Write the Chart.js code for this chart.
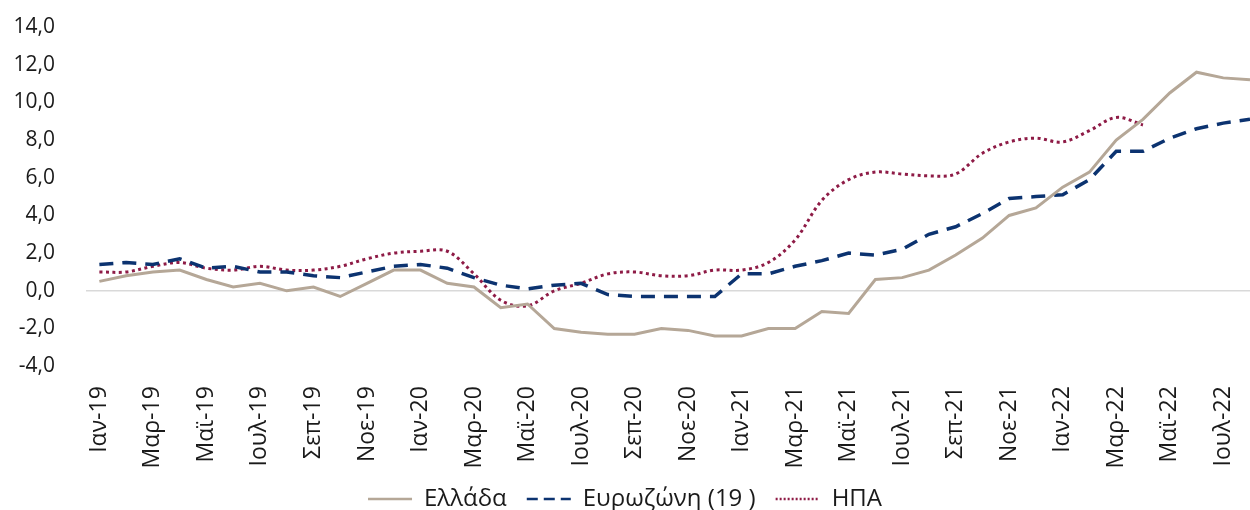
<!DOCTYPE html>
<html>
<head>
<meta charset="utf-8">
<script src="https://cdn.jsdelivr.net/npm/chart.js@4.4.0/dist/chart.umd.min.js"></script>
<style>
html,body{margin:0;padding:0;background:#fff;overflow:hidden}
#wrap{width:1250px;height:510px;position:relative}
</style>
</head>
<body>
<div id="wrap"><canvas id="c" width="1250" height="510"></canvas></div>
<script>
const months = [
  'Ιαν-19','Φεβ-19','Μαρ-19','Απρ-19','Μαϊ-19','Ιουν-19','Ιουλ-19','Αυγ-19','Σεπ-19','Οκτ-19','Νοε-19','Δεκ-19',
  'Ιαν-20','Φεβ-20','Μαρ-20','Απρ-20','Μαϊ-20','Ιουν-20','Ιουλ-20','Αυγ-20','Σεπ-20','Οκτ-20','Νοε-20','Δεκ-20',
  'Ιαν-21','Φεβ-21','Μαρ-21','Απρ-21','Μαϊ-21','Ιουν-21','Ιουλ-21','Αυγ-21','Σεπ-21','Οκτ-21','Νοε-21','Δεκ-21',
  'Ιαν-22','Φεβ-22','Μαρ-22','Απρ-22','Μαϊ-22','Ιουν-22','Ιουλ-22','Αυγ-22'
];
const tickLabels = ['Ιαν-19','Μαρ-19','Μαϊ-19','Ιουλ-19','Σεπ-19','Νοε-19','Ιαν-20','Μαρ-20','Μαϊ-20','Ιουλ-20','Σεπ-20','Νοε-20',
  'Ιαν-21','Μαρ-21','Μαϊ-21','Ιουλ-21','Σεπ-21','Νοε-21','Ιαν-22','Μαρ-22','Μαϊ-22','Ιουλ-22'];
const greece = [0.5,0.8,1.0,1.1,0.6,0.2,0.4,0.0,0.2,-0.3,0.4,1.1,
  1.1,0.4,0.2,-0.9,-0.7,-2.0,-2.2,-2.3,-2.3,-2.0,-2.1,-2.4,
  -2.4,-2.0,-2.0,-1.1,-1.2,0.6,0.7,1.1,1.9,2.8,4.0,4.4,
  5.5,6.3,8.0,9.1,10.5,11.6,11.3,11.2];
const eurozone = [1.4,1.5,1.4,1.7,1.2,1.3,1.0,1.0,0.8,0.7,1.0,1.3,
  1.4,1.2,0.7,0.3,0.1,0.3,0.4,-0.2,-0.3,-0.3,-0.3,-0.3,
  0.9,0.9,1.3,1.6,2.0,1.9,2.2,3.0,3.4,4.1,4.9,5.0,
  5.1,5.9,7.4,7.4,8.1,8.6,8.9,9.1];
const usa = [1.0,1.0,1.3,1.5,1.2,1.1,1.3,1.1,1.1,1.3,1.7,2.0,
  2.1,2.1,0.9,-0.5,-0.8,0.0,0.4,0.9,1.0,0.8,0.8,1.1,
  1.1,1.5,2.7,4.8,5.9,6.3,6.2,6.1,6.2,7.3,7.9,8.1,
  7.9,8.5,9.2,8.8];
const seriesNames = ['Ελλάδα','Ευρωζώνη (19 )','ΗΠΑ'];
const yMin = -4, yMax = 14, yStep = 2;

const toXY = arr => arr.map((v, i) => ({x: i, y: v}));
const tickIdx = tickLabels.map(l => months.indexOf(l));
const FONT = "'Open Sans', 'Noto Sans', sans-serif";
const legendDash = [[], [11, 6], [2, 2]];

new Chart(document.getElementById('c'), {
  type: 'line',
  data: {
    datasets: [
      {label: seriesNames[0], data: toXY(greece), borderColor: '#b5a797', backgroundColor: '#b5a797',
       borderWidth: 3, pointRadius: 0, tension: 0},
      {label: seriesNames[1], data: toXY(eurozone), borderColor: '#0c3370', backgroundColor: '#0c3370',
       borderWidth: 3.5, borderDash: [14, 9], pointRadius: 0, tension: 0},
      {label: seriesNames[2], data: toXY(usa), borderColor: '#8e1b46', backgroundColor: '#8e1b46',
       borderWidth: 3, borderDash: [3, 3.5], pointRadius: 0, tension: 0.35}
    ]
  },
  options: {
    responsive: false,
    animation: false,
    devicePixelRatio: 1,
    layout: {padding: {top: 27, left: 0, right: 0, bottom: -11}},
    plugins: {
      tooltip: {enabled: false},
      legend: {
        position: 'bottom',
        labels: {
          usePointStyle: true, pointStyle: 'line', pointStyleWidth: 44,
          boxHeight: 24, padding: 20, color: '#1a1a1a',
          font: {family: FONT, size: 24},
          generateLabels: chart => Chart.defaults.plugins.legend.labels.generateLabels(chart).map(l => {
            const ds = chart.data.datasets[l.datasetIndex];
            return Object.assign({}, l, {
              pointStyle: 'line', lineDash: legendDash[l.datasetIndex], lineWidth: 2.5,
              strokeStyle: ds.borderColor, fillStyle: ds.borderColor, lineCap: 'butt'
            });
          })
        }
      }
    },
    scales: {
      x: {
        type: 'linear', min: -0.5, max: 43,
        grid: {display: false, drawTicks: false},
        border: {display: false},
        afterBuildTicks: s => { s.ticks = tickIdx.map(v => ({value: v})); },
        afterFit: s => { s.height = 100.8; s.paddingLeft = 0; s.paddingRight = 0; },
        ticks: {
          autoSkip: false, minRotation: 90, maxRotation: 90, padding: 20,
          color: '#1a1a1a', font: {family: FONT, size: 23},
          callback: v => months[v]
        }
      },
      y: {
        min: yMin, max: yMax,
        grid: {drawTicks: false, color: c => (c.tick && c.tick.value === 0) ? '#d9d9d9' : 'rgba(0,0,0,0)', lineWidth: 1.5},
        border: {display: false},
        afterFit: s => { s.width = 86; s.paddingTop = 0; s.paddingBottom = 0; },
        ticks: {
          stepSize: yStep, padding: 31, color: '#1a1a1a', font: {family: FONT, size: 21},
          callback: v => v.toFixed(1).replace('.', ',')
        }
      }
    }
  }
});
</script>
</body>
</html>
